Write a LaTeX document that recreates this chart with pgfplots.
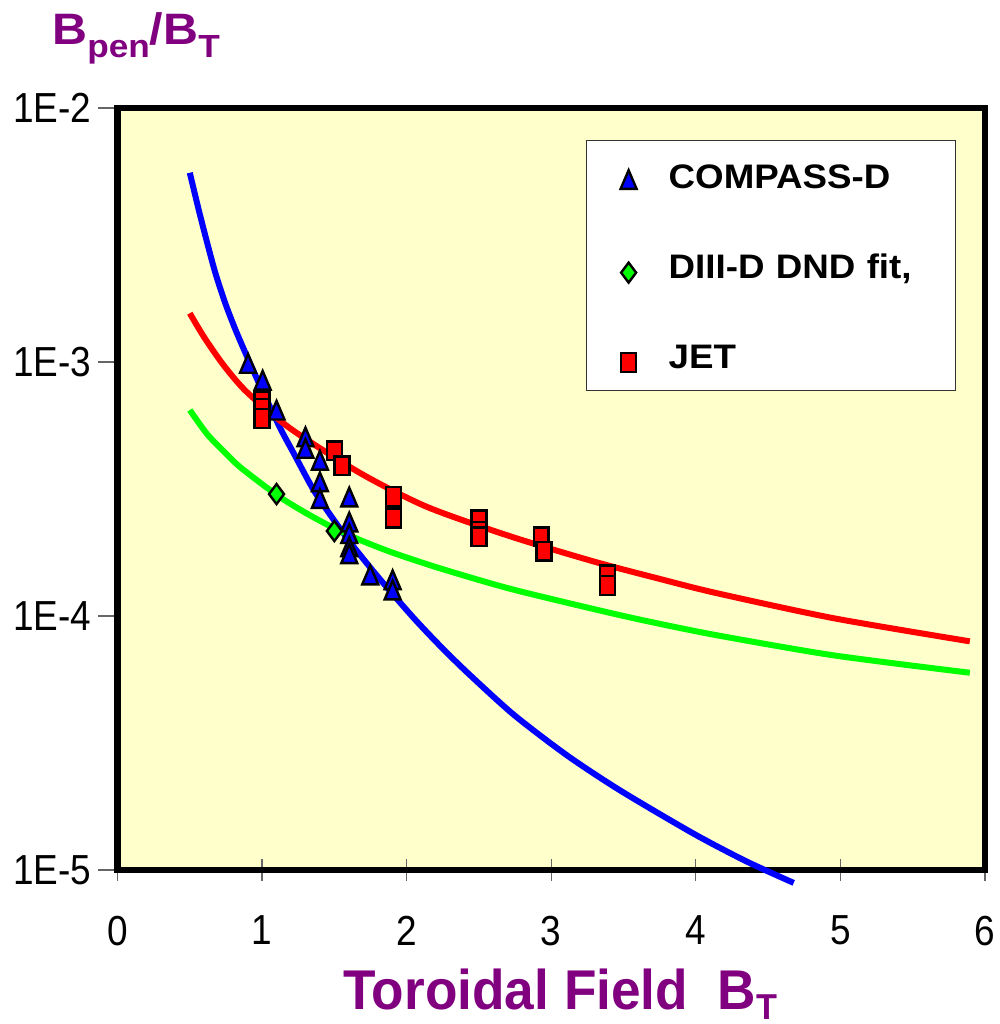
\documentclass[border=0pt]{standalone}
\usepackage{pgfplots}
\pgfplotsset{compat=1.18}
\usepackage{fontspec}
\setmainfont{Liberation Sans}
\newfontfamily\tickfont[FakeStretch=0.88]{Liberation Sans}
\newfontfamily\legfont[FakeStretch=1.08]{Liberation Sans Bold}
\newfontfamily\ylabfont[FakeStretch=1.1]{Liberation Sans Bold}
\newfontfamily\xlabfont[FakeStretch=0.95]{Liberation Sans Bold}
\definecolor{bgyellow}{RGB}{255,255,204}
\definecolor{labpurple}{RGB}{128,0,128}
\definecolor{cblue}{RGB}{0,0,255}
\definecolor{cred}{RGB}{255,0,0}
\definecolor{cgreen}{RGB}{0,255,0}

\pgfplotstableread{
x y
0.500 5.56e-3
0.562 3.97e-3
0.620 2.95e-3
0.677 2.24e-3
0.746 1.70e-3
0.816 1.34e-3
0.896 1.05e-3
1.000 7.76e-4
1.127 5.47e-4
1.219 4.37e-4
1.357 3.13e-4
1.496 2.39e-4
1.634 1.87e-4
1.818 1.39e-4
2.050 9.8e-5
2.232 7.62e-5
2.418 6.0e-5
2.740 4.09e-5
3.108 2.83e-5
3.475 2.06e-5
3.985 1.39e-5
4.352 1.08e-5
4.677 8.9e-6
}\bluecurve

\pgfplotstableread{
x y
0.500 1.556e-3
0.600 1.25e-3
0.735 9.7e-4
0.896 7.6e-4
1.200 5.45e-4
1.680 3.65e-4
2.140 2.69e-4
2.716 2.06e-4
3.293 1.64e-4
3.750 1.40e-4
4.145 1.23e-4
4.954 9.8e-5
5.895 7.95e-5
}\redcurve

\pgfplotstableread{
x y
0.500 6.47e-4
0.620 5.20e-4
0.735 4.45e-4
0.850 3.85e-4
1.104 2.99e-4
1.300 2.55e-4
1.496 2.22e-4
1.680 1.99e-4
1.910 1.77e-4
2.232 1.54e-4
2.716 1.28e-4
3.340 1.05e-4
3.680 9.5e-5
4.145 8.4e-5
4.954 7.0e-5
5.895 5.98e-5
}\greencurve

\pgfplotstableread{
x y
0.903 9.6e-4
1.004 8.24e-4
1.100 6.28e-4
1.300 4.93e-4
1.300 4.44e-4
1.400 3.99e-4
1.400 3.28e-4
1.400 2.82e-4
1.603 2.86e-4
1.603 2.28e-4
1.603 2.05e-4
1.603 1.82e-4
1.603 1.71e-4
1.748 1.41e-4
1.903 1.35e-4
1.903 1.23e-4
}\compass

\pgfplotstableread{
x y
1.100 3.02e-4
1.500 2.16e-4
}\diiid

\pgfplotstableread{
x y
1.000 6.98e-4
1.000 6.57e-4
1.000 6.00e-4
1.500 4.47e-4
1.553 3.90e-4
1.910 2.95e-4
1.910 2.43e-4
2.500 2.39e-4
2.500 2.15e-4
2.500 2.05e-4
2.930 2.05e-4
2.950 1.80e-4
3.390 1.45e-4
3.390 1.32e-4
}\jet

\begin{document}
\begin{tikzpicture}
\useasboundingbox (-58.75pt,-77pt) rectangle (441.25pt,435pt);
\begin{axis}[
  at={(0pt,0pt)}, anchor=south west,
  scale only axis, width=433.75pt, height=381pt,
  xmin=0, xmax=6, ymin=1e-5, ymax=1e-2, ymode=log,
  clip=false,
  axis background/.style={fill=bgyellow},
  axis line style={line width=3.25pt, black, line cap=rect},
  xtick={0,1,2,3,4,5,6}, xticklabels={0,1,2,3,4,5,6},
  ytick={1e-5,1e-4,1e-3,1e-2}, yticklabels={1E-5,1E-4,1E-3,1E-2},
  yminorticks=false, xminorticks=false,
  tick pos=left,
  tick align=center, major tick length=11pt,
  tick style={line width=0.6pt, black!60},
  ytick style={xshift=-4pt},
  tick label style={font=\tickfont\fontsize{21}{25}\selectfont},
  xticklabel style={anchor=north, yshift=-14pt},
  yticklabel style={anchor=east, xshift=-4pt},
  legend style={at={(0.540,0.958)}, anchor=north west, draw=black!80,
    line width=0.6pt, fill=white,
    font=\legfont\fontsize{17}{20}\selectfont,
    inner xsep=12.5pt, inner ysep=6.5pt, row sep=23pt,
    nodes={inner sep=0pt, text height=12.5pt, text depth=3pt},
    /tikz/every even column/.append style={text width=131pt},
    /tikz/every odd column/.append style={column sep=11.5pt}},
  legend cell align=left,
  legend image code/.code={
    \path[draw=none, fill=none] (0cm,-9.5pt) rectangle (0.6cm,12.5pt);
    \draw[mark repeat=2,mark phase=2,#1] plot coordinates {(0cm,-2pt) (0.3cm,-2pt) (0.6cm,-2pt)};},
]
\addplot[cblue, line width=3pt, smooth, tension=0.45, forget plot] table[x=x,y=y] {\bluecurve};
\addplot[cred, line width=3pt, smooth, tension=0.45, forget plot] table[x=x,y=y] {\redcurve};
\addplot[cgreen, line width=3pt, smooth, tension=0.45, forget plot] table[x=x,y=y] {\greencurve};
\addplot[only marks, mark=triangle*, mark size=4.6pt,
  mark options={fill=cblue, draw=black, line width=1.2pt, yscale=1.35}] table[x=x,y=y] {\compass};
\addlegendentry{COMPASS-D}
\addplot[only marks, mark=diamond*, mark size=5pt,
  mark options={fill=cgreen, draw=black, line width=1.2pt}] table[x=x,y=y] {\diiid};
\addlegendentry{DIII-D DND fit,}
\addplot[only marks, mark=square*, mark size=3.7pt,
  mark options={fill=cred, draw=black, line width=1.2pt, yscale=1.27}] table[x=x,y=y] {\jet};
\addlegendentry{JET}
\end{axis}
\node[anchor=base west, inner sep=0pt, text=labpurple, font=\ylabfont\fontsize{22}{26}\selectfont]
  at (-32.75pt,412.5pt) {B\raisebox{-6.5pt}{\fontsize{16}{19}\selectfont pen}/B\raisebox{-6.5pt}{\fontsize{16}{19}\selectfont T}};
\node[anchor=base west, inner sep=0pt, text=labpurple, font=\xlabfont\fontsize{28}{32}\selectfont]
  at (112.75pt,-69.5pt) {Toroidal Field\ \ B\raisebox{-5pt}{\fontsize{18}{21}\selectfont T}};
\end{tikzpicture}
\end{document}
